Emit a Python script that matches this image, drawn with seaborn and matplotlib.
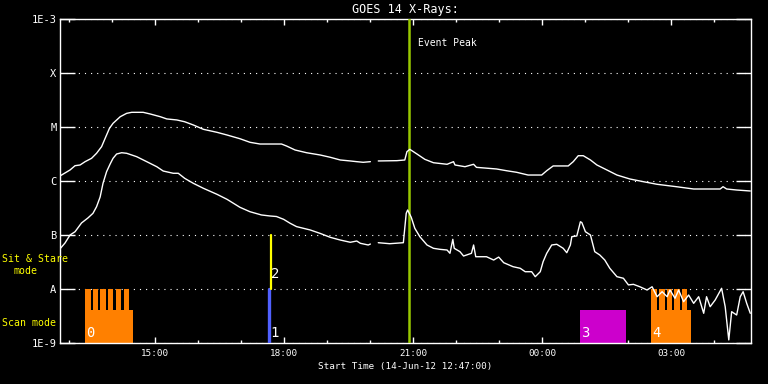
import numpy as np
import pandas as pd
import seaborn as sns
import matplotlib.pyplot as plt
from matplotlib.ticker import FixedLocator, MultipleLocator, NullLocator

# time axis: minutes after 14-Jun-12 12:47:00, flux in W/m^2
upper_min = [0, 14, 21, 28, 35, 44, 51, 58, 63, 69, 74, 84, 93, 100, 116, 126, 140, 149, 163, 174,
             186, 200, 219, 233, 251, 265, 279, 309, 316, 328, 344, 363, 377, 391, 405, 414, 423, 433,
             438,
             444, 470, 481, 484, 488, 498, 509, 521, 540, 549, 551, 565, 577, 581, 609, 623, 637, 653,
             672, 679, 688, 709, 716, 723, 730, 740, 749, 763, 777, 795, 814, 833, 860, 884, 921, 925,
             930, 944, 963]
upper_flux = [1.24e-6, 1.60e-6, 1.92e-6, 1.98e-6, 2.28e-6, 2.63e-6, 3.26e-6, 4.32e-6, 6.18e-6, 9.46e-6,
              1.17e-5, 1.55e-5, 1.79e-5, 1.87e-5, 1.87e-5, 1.74e-5, 1.55e-5, 1.41e-5, 1.35e-5, 1.25e-5,
              1.09e-5, 9.06e-6, 7.97e-6, 7.11e-6, 6.07e-6, 5.21e-6, 4.84e-6, 4.84e-6, 4.45e-6, 3.75e-6,
              3.34e-6, 3.03e-6, 2.75e-6, 2.45e-6, 2.35e-6, 2.28e-6, 2.22e-6, 2.28e-6,
              np.nan,
              2.35e-6, 2.38e-6, 2.45e-6, 3.49e-6, 3.86e-6, 3.16e-6, 2.52e-6, 2.18e-6, 2.04e-6, 2.28e-6,
              1.98e-6, 1.84e-6, 2.04e-6, 1.79e-6, 1.67e-6, 1.55e-6, 1.45e-6, 1.29e-6, 1.29e-6, 1.55e-6,
              1.90e-6, 1.90e-6, 2.28e-6, 2.94e-6, 2.94e-6, 2.45e-6, 1.98e-6, 1.60e-6, 1.29e-6, 1.09e-6,
              9.70e-7, 8.69e-7, 7.84e-7, 7.11e-7, 7.11e-7, 7.84e-7, 7.11e-7, 6.81e-7, 6.53e-7]

lower_min = [1, 7, 14, 21, 30, 39, 46, 51, 56, 60, 65, 70, 74, 79, 86, 93, 107, 121, 135, 144,
             158, 165, 174, 186, 200, 219, 233, 251, 265, 281, 293, 302, 312, 321, 330, 349, 363, 377,
             391, 405, 414, 419, 430, 433, 438, 444, 460, 479, 483, 485, 490, 495, 502, 512, 521, 530,
             540, 544, 548, 550, 558, 563, 574, 577, 580, 595, 605, 612, 619, 632, 642, 649, 658, 663,
             670, 674, 679, 686, 693, 702, 707, 712, 714, 721, 726, 728, 733, 740, 746, 753, 760, 767,
             777, 786, 793, 800, 809, 819, 826, 833, 840, 847, 851, 858, 863, 870, 877, 884, 891, 898,
             902, 907, 914, 923, 928, 933, 937, 944, 949, 953, 958, 963]
lower_flux = [5.74e-8, 7.11e-8, 1.0e-7, 1.15e-7, 1.67e-7, 2.07e-7, 2.52e-7, 3.34e-7, 5.06e-7, 9.06e-7,
              1.49e-6, 2.07e-6, 2.63e-6, 3.16e-6, 3.34e-6, 3.26e-6, 2.82e-6, 2.28e-6, 1.84e-6, 1.53e-6,
              1.39e-6, 1.39e-6, 1.12e-6, 9.06e-7, 7.33e-7, 5.67e-7, 4.58e-7, 3.26e-7, 2.70e-7, 2.35e-7,
              2.25e-7, 2.20e-7, 1.95e-7, 1.65e-7, 1.43e-7, 1.24e-7, 1.07e-7, 9.06e-8, 8.07e-8, 7.33e-8,
              7.74e-8, 7.02e-8, 6.53e-8, 6.8e-8, np.nan, 7.20e-8, 6.90e-8, 7.20e-8, 2.52e-7, 2.90e-7,
              2.13e-7, 1.33e-7, 9.31e-8, 6.53e-8, 5.67e-8, 5.43e-8, 5.27e-8, 4.58e-8, 8.32e-8, 5.67e-8,
              4.91e-8, 4.08e-8, 4.58e-8, 6.53e-8, 3.96e-8, 3.96e-8, 3.44e-8, 3.9e-8, 3.07e-8, 2.59e-8,
              2.42e-8, 2.09e-8, 2.09e-8, 1.69e-8, 2.09e-8, 3.21e-8, 4.58e-8, 6.53e-8, 6.73e-8, 5.67e-8,
              4.70e-8, 6.53e-8, 9.31e-8, 9.6e-8, 1.76e-7, 1.7e-7, 1.15e-7, 1.0e-7, 4.91e-8, 4.27e-8,
              3.44e-8, 2.42e-8, 1.69e-8, 1.58e-8, 1.19e-8, 1.22e-8, 1.10e-8, 9.58e-9, 1.10e-8, 7.20e-9,
              8.91e-9, 7.20e-9, 9.58e-9, 6.73e-9, 9.58e-9, 5.82e-9, 7.74e-9, 5.43e-9, 7.20e-9, 3.55e-9,
              7.2e-9, 4.70e-9, 6.25e-9, 1.03e-8, 4.70e-9, 1.14e-9, 3.80e-9, 3.30e-9, 7.20e-9, 8.91e-9,
              5.43e-9, 3.55e-9]

tick_min = [133, 313, 493, 673, 853]
tick_labels = ['15:00', '18:00', '21:00', '00:00', '03:00']
flux_ticks = [1e-9, 1e-8, 1e-7, 1e-6, 1e-5, 1e-4, 1e-3]
flux_labels = ['1E-9', 'A', 'B', 'C', 'M', 'X', '1E-3']

# observing modes
scan_start = [35, 825]
scan_end = [102, 880]
scan_names = ['0', '4']
scan_teeth = [35, 45.5, 56, 66.5, 77.5, 89, 825, 836, 846.5, 857, 867.5]
stare_start = [726]
stare_end = [789]
stare_names = ['3']
mode1_min = 291
mode2_min = 294
peak_min = 487
t_end = 964

ORANGE = '#ff8000'
MAGENTA = '#cc00cc'
YELLOW = '#ffff00'
BLUE = '#5060ff'
GREEN = '#98c800'


def to_frame(mins, flux):
    df = pd.DataFrame({'t': mins, 'flux': flux})
    df['seg'] = df['flux'].isna().cumsum()
    return df.dropna()


sns.set_theme(style='ticks')
plt.rcParams['font.family'] = ['DejaVu Sans Mono', 'DejaVu Sans']

fig = plt.figure(figsize=(7.68, 3.84), dpi=100, facecolor='black')
ax = fig.add_axes([60 / 768, 1 - 343 / 384, 691 / 768, 324 / 384])
ax.set_facecolor('black')
ax.set_yscale('log')
ax.set_xlim(0, t_end)
ax.set_ylim(1e-9, 1e-3)

for df in (to_frame(upper_min, upper_flux), to_frame(lower_min, lower_flux)):
    sns.lineplot(data=df, x='t', y='flux', units='seg', estimator=None, sort=False,
                 color='white', lw=1.0, ax=ax, zorder=4)

# mode blocks
base_top = 4.1e-9
ax.bar(scan_start, [base_top - 1e-9] * len(scan_start),
       width=[e - s for s, e in zip(scan_start, scan_end)], bottom=1e-9,
       align='edge', color=ORANGE, lw=0, zorder=2)
ax.bar(scan_teeth, [1e-8 - 1e-9] * len(scan_teeth), width=7.6, bottom=1e-9,
       align='edge', color=ORANGE, lw=0, zorder=2)
ax.bar(stare_start, [base_top - 1e-9] * len(stare_start),
       width=[e - s for s, e in zip(stare_start, stare_end)], bottom=1e-9,
       align='edge', color=MAGENTA, lw=0, zorder=2)
for s, n in zip(scan_start + stare_start, scan_names + stare_names):
    ax.text(s + 1, 1.55e-9, n, color='white', fontsize=10, va='center', ha='left', zorder=5)

ax.plot([mode1_min, mode1_min], [1e-9, 1e-8], color=BLUE, lw=2.4, zorder=3)
ax.plot([mode2_min, mode2_min], [1e-8, 1e-7], color=YELLOW, lw=1.6, zorder=3)
ax.text(mode1_min + 2, 1.55e-9, '1', color='white', fontsize=10, va='center', zorder=5)
ax.text(mode2_min + 1, 1.9e-8, '2', color='white', fontsize=10, va='center', zorder=5)

ax.axvline(peak_min, color=GREEN, lw=1.8, zorder=3)
ax.text(peak_min + 12, 3.6e-4, 'Event Peak', color='white', fontsize=7, va='center')

# axes styling
for sp in ax.spines.values():
    sp.set_color('white')
    sp.set_linewidth(1.0)
    sp.set_visible(True)
ax.yaxis.set_major_locator(FixedLocator(flux_ticks))
ax.yaxis.set_minor_locator(NullLocator())
ax.set_yticklabels(flux_labels)
ax.xaxis.set_major_locator(FixedLocator(tick_min))
ax.xaxis.set_minor_locator(MultipleLocator(60, offset=13))
ax.set_xticklabels(tick_labels)
ax.tick_params(axis='y', which='major', direction='in', length=10.8, width=1, colors='white',
               left=True, right=True, labelsize=7.5, pad=2.5)
ax.tick_params(axis='x', which='major', direction='in', length=4.3, width=1, colors='white',
               bottom=True, top=True, labelsize=6.7, pad=4)
ax.tick_params(axis='x', which='minor', direction='in', length=2.5, width=1, colors='white',
               bottom=True, top=True)
ax.grid(axis='y', which='major', color='white', lw=0.8, ls=(0, (1, 4.5)))
ax.grid(axis='x', visible=False)

ax.set_xlabel('Start Time (14-Jun-12 12:47:00)', color='white', fontsize=6.7, labelpad=3)
ax.set_ylabel('')
ax.set_title('GOES 14 X-Rays:', color='white', fontsize=8.5, pad=4)

fig.text(2 / 768, 1 - 259 / 384, 'Sit & Stare', color=YELLOW, fontsize=7.1, va='center')
fig.text(13 / 768, 1 - 271 / 384, 'mode', color=YELLOW, fontsize=7.1, va='center')
fig.text(2 / 768, 1 - 323 / 384, 'Scan mode', color=YELLOW, fontsize=7.1, va='center')

fig.savefig('out.png', dpi=100, facecolor='black')
